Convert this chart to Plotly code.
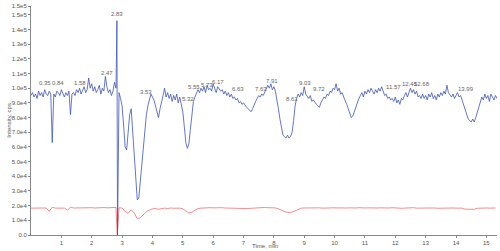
import numpy as np
import plotly.graph_objects as go

# Blue trace (TIC), kcps, sampled every 0.05 min from 0.00 min (10 values per line = 0.5 min)
blue_kcps = [
    95, 97, 94, 96, 93, 98, 95, 97, 94, 99,
    96, 95, 98, 96, 63, 96, 94, 98, 97, 95,
    99, 96, 94, 97, 95, 98, 82, 96, 97, 95,
    99, 97, 100, 96, 98, 101, 97, 99, 107, 100,
    103, 98, 101, 97, 99, 102, 96, 100, 98, 108,
    101, 97, 99, 95, 98, 104, 100, 0, 97, 93,
    88, 75, 60, 58, 70, 82, 86, 70, 50, 32,
    24, 25, 36, 50, 58, 72, 82, 88, 93, 96,
    94, 92, 88, 84, 80, 86, 92, 95, 100, 94,
    97, 93, 96, 91, 95, 92, 96, 90, 94, 90,
    84, 74, 63, 59, 62, 72, 84, 91, 94, 96,
    99, 97, 100, 98, 101, 97, 102, 99, 100, 98,
    103, 100, 97, 101, 99, 98, 99, 96, 98, 95,
    97, 94, 96, 93, 94, 92, 93, 90, 91, 89,
    90, 88, 87, 86, 85, 84, 86, 89, 91, 93,
    95, 94, 96, 95, 97, 99, 102, 100, 103, 99,
    101, 98, 93, 86, 79, 72, 68, 67, 66, 68,
    66, 67, 70, 78, 88, 93, 96, 94, 97, 95,
    101, 96, 94, 93, 95, 91, 92, 90, 89, 88,
    87, 90, 92, 94, 93, 96, 95, 98, 97, 100,
    99, 103, 98, 100, 96, 97, 94, 92, 89, 86,
    83, 80, 81, 84, 88, 90, 93, 95, 97, 94,
    98, 96, 99, 97, 100, 98, 96, 99, 97, 100,
    98, 101, 97, 95, 96, 93, 94, 92, 93, 91,
    94, 90, 92, 89, 93, 92, 95, 97, 94, 98,
    100, 97, 99, 96, 98, 94, 95, 93, 96, 93,
    95, 92, 96, 94, 97, 93, 95, 92, 96, 94,
    97, 95, 98, 96, 102, 97, 95, 94, 96, 93,
    95, 97, 94, 95, 92, 89, 86, 82, 79, 78,
    77, 79, 77, 80, 84, 88, 91, 94, 92, 96,
    93, 95, 91, 96, 94, 92, 95, 93,
]
blue_step = 0.05
blue_extra_t = [2.83]
blue_extra_kcps = [146]

# Red trace, kcps, sampled every 0.1 min (10 values per line = 1 min)
red_kcps = [
    18.3, 18.4, 18.2, 18.5, 18.3, 18.4, 16.2, 18.9, 18.3, 18.4,
    18.5, 18.3, 16.8, 19.0, 18.4, 18.5, 18.3, 18.6, 18.4, 18.5,
    18.6, 18.4, 18.6, 18.5, 18.7, 18.5, 18.6, 18.7, 18.8, 18.5,
    18.4, 16.0, 14.8, 17.2, 15.0, 11.2, 11.8, 13.8, 15.8, 17.0,
    17.8, 18.0, 17.6, 17.9, 18.3, 18.0, 18.4, 18.2, 18.5, 18.3,
    17.8, 16.2, 15.0, 15.6, 17.0, 18.0, 18.3, 18.5, 18.4, 18.6,
    18.5, 18.7, 18.4, 18.6, 18.4, 18.3, 18.5, 18.2, 18.4, 18.3,
    18.2, 18.0, 18.1, 18.3, 18.4, 18.6, 18.7, 18.8, 18.6, 18.7,
    18.5, 18.2, 17.4, 16.2, 15.6, 15.4, 15.6, 16.4, 17.6, 18.3,
    18.4, 18.5, 18.3, 18.6, 18.4, 18.5, 18.3, 18.6, 18.4, 18.5,
    18.4, 18.5, 18.3, 18.6, 18.4, 18.5, 18.3, 18.4, 18.6, 18.3,
    18.4, 18.5, 18.3, 18.2, 18.4, 18.5, 18.3, 18.5, 18.4, 18.6,
    18.3, 18.4, 18.2, 18.3, 18.5, 18.4, 18.6, 18.3, 18.4, 18.5,
    18.4, 18.3, 18.5, 18.4, 18.2, 18.3, 18.5, 18.4, 18.3, 18.4,
    18.3, 18.2, 18.3, 17.6, 17.4, 17.4, 17.5, 18.2, 18.4, 18.3,
    18.4, 18.3, 18.5, 18.4,
]
red_step = 0.1
red_extra_t = [2.84]
red_extra_kcps = [0.0]

# Peak labels (text, anchor time, anchor intensity kcps) as placed in the picture
peak_labels = ["0.35", "0.84", "1.58", "2.47", "2.83", "3.53", "5.32", "5.55", "5.73",
               "6.17", "6.63", "7.63", "7.91", "8.61", "9.03", "9.72", "11.57", "12.45",
               "12.68", "13.99"]
label_t = [0.47, 0.88, 1.61, 2.50, 2.83, 3.79, 5.17, 5.37, 5.80, 6.16, 6.82, 7.58,
           7.94, 8.60, 9.03, 9.49, 11.93, 12.47, 12.87, 14.33]
label_kcps = [103.5, 103.5, 103.5, 110.4, 150.5, 97.4, 92.6, 100.8, 102.2, 104.2, 99.5,
              99.5, 104.9, 92.6, 103.5, 99.5, 100.8, 102.9, 102.9, 99.5]

y_tickvals = [0, 10000, 20000, 30000, 40000, 50000, 60000, 70000, 80000, 90000,
              100000, 110000, 120000, 130000, 140000, 150000, 155800]
y_ticktext = ["0.0", "1.0e4", "2.0e4", "3.0e4", "4.0e4", "5.0e4", "6.0e4", "7.0e4",
              "8.0e4", "9.0e4", "1.0e5", "1.1e5", "1.2e5", "1.3e5", "1.4e5", "1.5e5", "1.5e5"]
x_tickvals = list(range(1, 16))


def build(values, step, extra_t, extra_v):
    t = np.round(np.arange(len(values)) * step, 3)
    tt = np.concatenate([t, extra_t])
    vv = np.concatenate([np.array(values, float), extra_v]) * 1000
    order = np.argsort(tt, kind="stable")
    return tt[order], vv[order]


bt, bv = build(blue_kcps, blue_step, blue_extra_t, blue_extra_kcps)
rt, rv = build(red_kcps, red_step, red_extra_t, red_extra_kcps)

FONT = "Arial, Liberation Sans"

fig = go.Figure()
fig.add_trace(go.Scatter(x=rt, y=rv, mode="lines", line=dict(color="#F05A5A", width=0.7),
                         hoverinfo="skip", showlegend=False))
fig.add_trace(go.Scatter(x=bt, y=bv, mode="lines", line=dict(color="#3F55AE", width=0.8),
                         hoverinfo="skip", showlegend=False))

for txt, t, v in zip(peak_labels, label_t, label_kcps):
    fig.add_annotation(x=t, y=v * 1000, text=txt, showarrow=False,
                       font=dict(size=6, color="#666666", family=FONT),
                       xanchor="center", yanchor="middle")

fig.add_annotation(xref="paper", yref="paper", x=0.502, y=-0.05, text="Time, min",
                   showarrow=False, font=dict(size=6, color="#555555", family=FONT),
                   xanchor="center", yanchor="middle")
fig.add_annotation(xref="paper", yref="paper", x=-0.049, y=0.5, text="Intensity, cps",
                   showarrow=False, textangle=-90,
                   font=dict(size=6, color="#555555", family=FONT),
                   xanchor="center", yanchor="middle")

fig.update_layout(
    width=500, height=251,
    margin=dict(l=31, r=3, t=6, b=16, autoexpand=False),
    plot_bgcolor="white", paper_bgcolor="white",
    font=dict(family=FONT, size=6, color="#555555"),
    xaxis=dict(range=[0, 15.35], tickvals=x_tickvals, ticks="outside", ticklen=2,
               tickcolor="#888888", showline=True, linecolor="#888888", linewidth=1,
               showgrid=False, zeroline=False, automargin=False,
               tickfont=dict(size=6, color="#555555", family=FONT)),
    yaxis=dict(range=[0, 156000], tickvals=y_tickvals, ticktext=y_ticktext,
               ticks="outside", ticklen=2, tickcolor="#888888", showline=True,
               linecolor="#888888", linewidth=1, showgrid=False, zeroline=False,
               automargin=False, tickfont=dict(size=6, color="#555555", family=FONT)),
)

fig.write_html("out.html", config={"displayModeBar": False},
               post_script="document.body.style.margin='0px';document.body.style.overflow='hidden';")
